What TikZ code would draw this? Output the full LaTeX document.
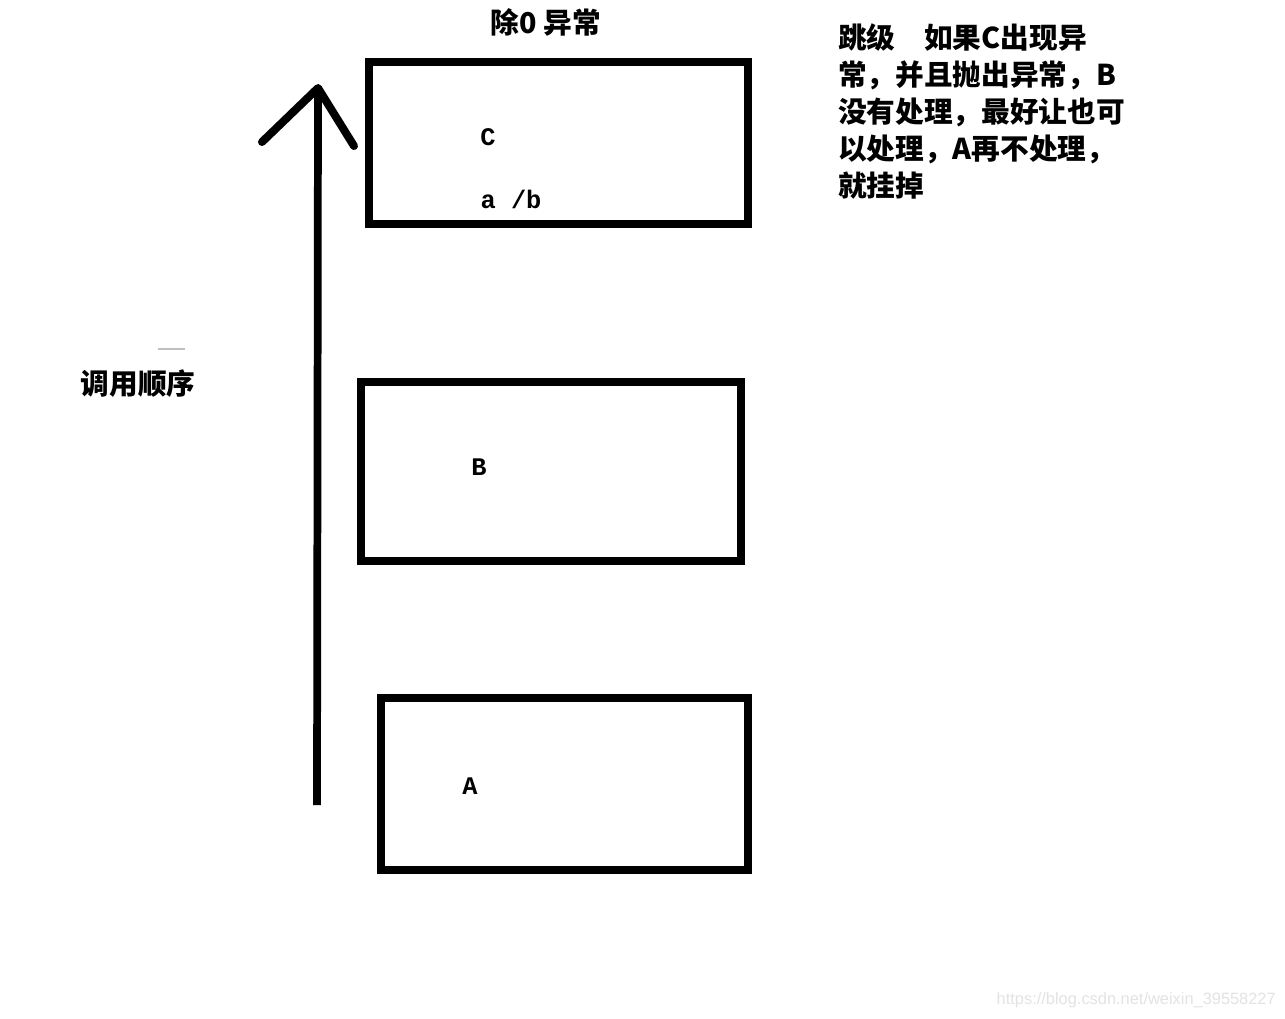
\documentclass[tikz,border=0pt]{standalone}
\usepackage{fontspec}
\setmainfont{Liberation Serif}
\newfontfamily\cjk{Noto Sans CJK SC}
\newfontfamily\monofnt{Liberation Mono}
\newfontfamily\wmfnt{Liberation Sans}
\begin{document}
\begin{tikzpicture}[x=0.75pt,y=-0.75pt]
\tikzset{
  callbox/.style={draw=black, line width=6pt, rectangle, inner sep=0pt},
  boxlabel/.style={inner sep=0pt, font=\monofnt\bfseries\fontsize{19pt}{22pt}\selectfont},
  cjktext/.style={inner sep=0pt, font=\cjk\bfseries\fontsize{21.5pt}{27.75pt}\selectfont},
  shaft/.style={line width=5.8pt},
  headline/.style={line width=6pt, line cap=round, line join=round}
}
\fill[white] (0,0) rectangle (1285,1018);
\useasboundingbox (0,0) rectangle (1285,1018);

% boxes
\node[callbox, minimum width=284.25pt, minimum height=121.5pt] (C) at (558.5,143) {};
\node[callbox, minimum width=285pt, minimum height=134.25pt] (B) at (551,471.5) {};
\node[callbox, minimum width=275.25pt, minimum height=129pt] (A) at (564.5,784) {};

% box labels
\node[boxlabel] (Clab) at (488,137) {C};
\node[boxlabel] (ablab) at (511,199) {a /b};
\node[boxlabel] (Blab) at (479,467) {B};
\node[boxlabel] (Alab) at (470,786) {A};

% call order arrow
\coordinate (tail) at (317,805);
\coordinate (tip) at (318,88);
\coordinate (hl) at (262,142);
\coordinate (hr) at (354,146);
\draw[shaft] (tail) -- (tip);
\draw[headline] (hl) -- (tip) -- (hr);

% texts
\node[cjktext] (title) at (546,22) {除0 异常};
\node[cjktext] (order) at (138,384) {调用顺序};
\draw[gray!50, line width=1pt] (158,349) -- (185,349);
\node[cjktext, anchor=north west, align=left] (note) at (838,23)
  {跳级\hspace{1em}如果C出现异\\常，并且抛出异常，B\\没有处理，最好让也可\\以处理，A再不处理，\\就挂掉};

% watermark
\node[inner sep=0pt, anchor=east, text=gray!22, font=\wmfnt\fontsize{12.3pt}{15pt}\selectfont] (wm) at (1276,1000) {https://blog.csdn.net/weixin\_39558227};
\end{tikzpicture}
\end{document}
